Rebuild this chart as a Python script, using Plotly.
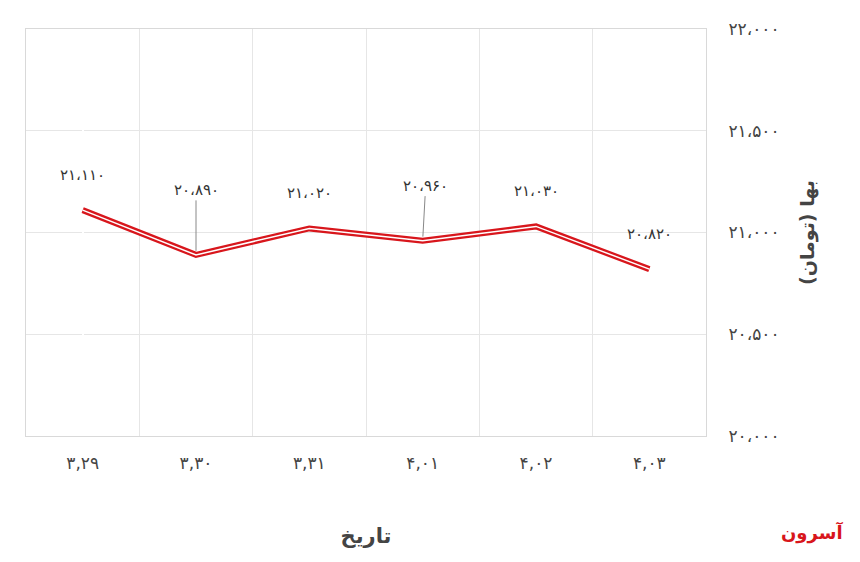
import plotly.graph_objects as go

dates = ["۳,۲۹", "۳,۳۰", "۳,۳۱", "۴,۰۱", "۴,۰۲", "۴,۰۳"]
prices = [21110, 20890, 21020, 20960, 21030, 20820]
price_labels = ["۲۱،۱۱۰", "۲۰،۸۹۰", "۲۱،۰۲۰", "۲۰،۹۶۰", "۲۱،۰۳۰", "۲۰،۸۲۰"]
y_ticks = [20000, 20500, 21000, 21500, 22000]
y_tick_labels = ["۲۰،۰۰۰", "۲۰،۵۰۰", "۲۱،۰۰۰", "۲۱،۵۰۰", "۲۲،۰۰۰"]
label_offsets = [-35, -65, -35, -55, -35, -35]
label_ax = [0, 0, 0, 3, 0, 0]
label_arrows = [False, True, False, True, False, False]

x = list(range(len(dates)))
fig = go.Figure()
fig.add_trace(go.Scatter(x=x, y=prices, mode="lines", line=dict(color="#d8161c", width=6), hoverinfo="skip"))
fig.add_trace(go.Scatter(x=x, y=prices, mode="lines", line=dict(color="white", width=1.5), hoverinfo="skip"))

for i in x:
    fig.add_annotation(x=i, y=prices[i], text=price_labels[i], showarrow=True,
                       arrowhead=0, arrowwidth=1, arrowcolor="#888" if label_arrows[i] else "rgba(0,0,0,0)",
                       ax=label_ax[i], ay=label_offsets[i], standoff=4,
                       font=dict(size=15, color="#333", family="DejaVu Sans"))

fig.add_annotation(x=1.205, y=-0.27, xref="paper", yref="paper", text="<b>آسرون</b>", showarrow=False,
                   font=dict(size=18, color="#d8161c", family="DejaVu Sans"))

fig.update_layout(
    width=860, height=562, plot_bgcolor="white", paper_bgcolor="white",
    margin=dict(l=18, r=162, t=21, b=134, autoexpand=False), showlegend=False,
    font=dict(family="DejaVu Sans", color="#444"),
    xaxis=dict(tickvals=x, ticktext=dates, range=[-0.5, 5.5], showgrid=False,
               minor=dict(tick0=-0.5, dtick=1, showgrid=True, gridcolor="#e6e6e6"),
               showline=True, linecolor="#d9d9d9", mirror=True, ticks="", tickfont=dict(size=17, color="#444"),
               ticklabelstandoff=12,
               title=dict(text="<b>تاریخ</b>", font=dict(size=21, color="#444"), standoff=55)),
    yaxis=dict(side="right", range=[20000, 22000], tickvals=y_ticks, ticktext=y_tick_labels,
               gridcolor="#e6e6e6", showline=True, linecolor="#d9d9d9", mirror=True,
               tickfont=dict(size=17, color="#444"), ticklabelstandoff=18,
               title=dict(text="<b>بها (تومان)</b>", font=dict(size=19, color="#444"), standoff=22)),
)
fig.write_html("out.html")
